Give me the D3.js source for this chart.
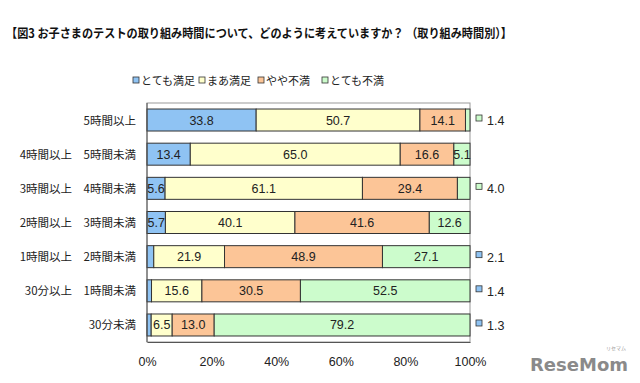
<!DOCTYPE html>
<html><head><meta charset="utf-8">
<script src="https://cdn.jsdelivr.net/npm/d3@7"></script>
<style>body{margin:0;background:#fff}svg{display:block}</style>
</head><body>
<script>
const categories = ["5時間以上","4時間以上　5時間未満","3時間以上　4時間未満","2時間以上　3時間未満","1時間以上　2時間未満","30分以上　1時間未満","30分未満"];
const seriesNames = ["とても満足","まあ満足","やや不満","とても不満"];
const verySatisfied = [33.8,13.4,5.6,5.7,2.1,1.4,1.3];
const satisfied = [50.7,65.0,61.1,40.1,21.9,15.6,6.5];
const slightlyUnsat = [14.1,16.6,29.4,41.6,48.9,30.5,13.0];
const veryUnsat = [1.4,5.1,4.0,12.6,27.1,52.5,79.2];
const tickValues = [0,20,40,60,80,100];
const title = "【図3 お子さまのテストの取り組み時間について、どのように考えていますか？ （取り組み時間別）】";

const colors = ["#8fc3f3","#ffffcc","#fcc597","#ccfccc"];
const series = [verySatisfied, satisfied, slightlyUnsat, veryUnsat];
const W=640,H=383;
const svg=d3.select("body").append("svg").attr("width",W).attr("height",H);
const jp="'Noto Sans CJK JP','Noto Sans',sans-serif";
const num="'Liberation Sans','Noto Sans',sans-serif";

svg.append("text").attr("x",6).attr("y",38).attr("font-family",jp).attr("font-weight","bold")
  .attr("font-size",12.5).attr("fill","#111").attr("textLength",506).attr("lengthAdjust","spacingAndGlyphs").text(title);

const x=d3.scaleLinear().domain([0,100]).range([147,470]);
const y=d3.scaleBand().domain(categories).range([103,342]).paddingInner(0.356).paddingOuter(0.176);

// plot frame
svg.append("rect").attr("x",x(0)).attr("y",103).attr("width",x(100)-x(0)).attr("height",342-103)
  .attr("fill","none").attr("stroke","#999");

// legend
const legX=[133,199,258,322];
const lg=svg.append("g");
seriesNames.forEach((n,i)=>{
  lg.append("rect").attr("x",legX[i]).attr("y",77).attr("width",6).attr("height",6)
    .attr("fill",colors[i]).attr("stroke","#333").attr("stroke-width",0.8);
  lg.append("text").attr("x",legX[i]+8).attr("y",85).attr("font-family",jp).attr("font-size",11)
    .attr("fill","#222").text(n);
});

// bars
categories.forEach((c,r)=>{
  let acc=0;
  series.forEach((s,i)=>{
    const v=s[r];
    const x0=x(acc), x1=x(Math.min(100,acc+v));
    svg.append("rect").attr("x",x0).attr("y",y(c)).attr("width",Math.max(0,x1-x0)).attr("height",y.bandwidth())
      .attr("fill",colors[i]).attr("stroke","#333").attr("stroke-width",1);
    if(v>=5){
      svg.append("text").attr("x",(x0+x1)/2).attr("y",y(c)+y.bandwidth()/2+4.5).attr("text-anchor","middle")
        .attr("font-family",num).attr("font-size",12.5).attr("fill","#222").text(v.toFixed(1));
    } else {
      const cy=y(c)+y.bandwidth()/2;
      svg.append("rect").attr("x",476).attr("y",cy-5).attr("width",6).attr("height",6)
        .attr("fill",colors[i]).attr("stroke","#333").attr("stroke-width",0.8);
      svg.append("text").attr("x",487).attr("y",cy+5).attr("font-family",num).attr("font-size",12.5)
        .attr("fill","#222").text(v.toFixed(1));
    }
    acc+=v;
  });
  svg.append("text").attr("x",136).attr("y",y(c)+y.bandwidth()/2+4.5).attr("text-anchor","end")
    .attr("font-family",jp).attr("font-size",11.5).attr("fill","#222").text(c);
});

// axes lines
svg.append("line").attr("x1",x(0)).attr("x2",x(0)).attr("y1",103).attr("y2",342).attr("stroke","#555");
const ax=svg.append("g").attr("transform","translate(0,342)")
  .call(d3.axisBottom(x).tickValues(tickValues).tickSize(0).tickPadding(15).tickFormat(d=>d+"%"));
ax.select(".domain").attr("stroke","#555");
ax.selectAll("text").attr("font-family",num).attr("font-size",12.5).attr("fill","#222");

// logo
svg.append("text").attr("x",530).attr("y",371).attr("font-family","'DejaVu Sans',sans-serif").attr("font-weight","bold")
  .attr("font-size",18).attr("fill","#8a8a8a").text("ReseMom");
svg.append("text").attr("x",606).attr("y",350).attr("font-family",jp).attr("font-size",5).attr("fill","#999").text("リセマム");
</script>
</body></html>
